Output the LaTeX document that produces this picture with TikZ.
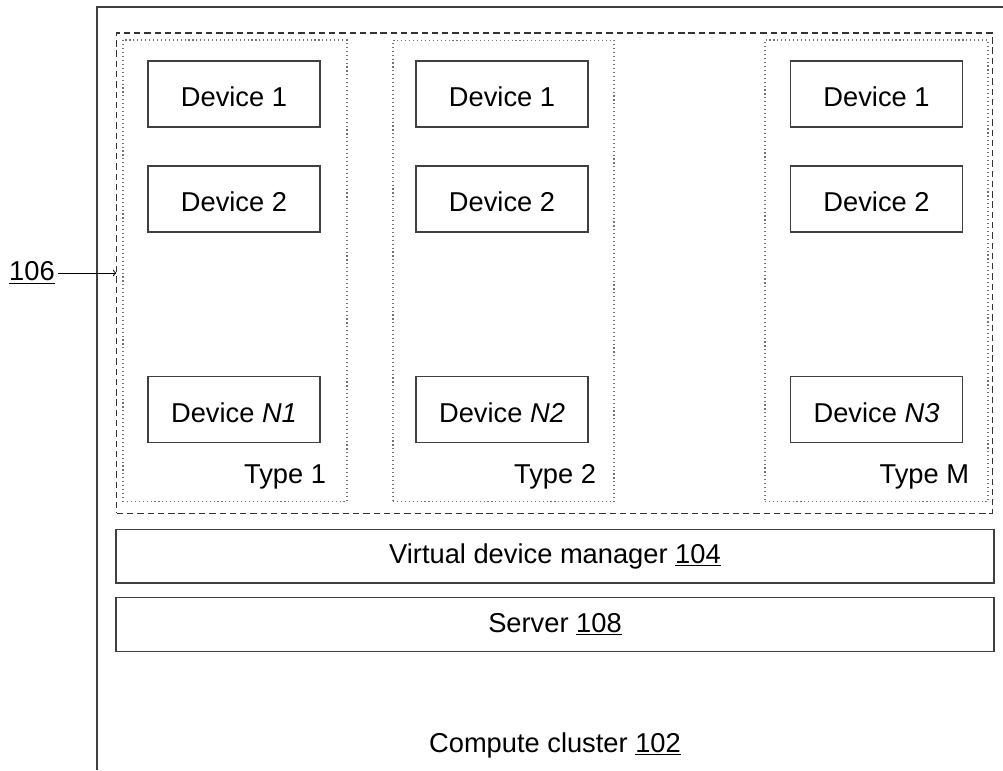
\documentclass[tikz,border=0pt]{standalone}
\usepackage{fontspec}
\setmainfont{Liberation Sans}
\usetikzlibrary{%
  arrows,%
  positioning,% wg. " of "
  calc
}

\begin{document}
\begin{tikzpicture}
[x=0.025cm, y=-0.025cm, font=\fontsize{19.4}{23}\selectfont,
dev/.style={rectangle, draw=black!75, line width=1pt, inner sep=0pt, text height=18pt, text depth=0pt, minimum width=4.3cm, minimum height=1.65cm},
typebox/.style={rectangle, draw=black!55, dash pattern=on 0.8pt off 2pt, line width=0.8pt, inner sep=0pt, minimum height=11.525cm},
poolbox/.style={rectangle, draw=black!80, dash pattern=on 4.5pt off 2.8pt, line width=0.8pt, inner sep=0pt, minimum width=21.875cm, minimum height=12cm},
bar/.style={rectangle, draw=black!75, line width=1pt, inner sep=0pt, minimum width=21.95cm, minimum height=1.34cm}
]
\useasboundingbox (0,0) rectangle (1003,770);

% compute cluster (cut by the page)
\draw[black!75, line width=1pt] (1003,7) -- (97,7) -- (97,770);
\node (cluster) at (555,745) {Compute cluster \underline{102}};

% device pool
\node[poolbox] (pool) at (554.5,273) {};

\node[typebox, minimum width=5.6cm] (type1) at (235,270.5) {};
\node[typebox, minimum width=5.525cm] (type2) at (503.5,271) {};
\node[typebox, minimum width=5.575cm] (typeM) at (876.5,270.5) {};

\node[anchor=base east] (t1) at (331,483) {Type 1};
\node[anchor=base east] (t2) at (601,483) {Type 2};
\node[anchor=base east] (tM) at (974,483) {Type M};

\node[dev] (d11) at (234,94) {Device 1};
\node[dev] (d12) at (234,199) {Device 2};
\node[dev] (d1n) at (234,409.5) {Device \textit{N1}};

\node[dev] (d21) at (502,94) {Device 1};
\node[dev] (d22) at (502,199) {Device 2};
\node[dev] (d2n) at (502,409.5) {Device \textit{N2}};

\node[dev] (d31) at (876.5,94) {Device 1};
\node[dev] (d32) at (876.5,199) {Device 2};
\node[dev] (d3n) at (876.5,409.5) {Device \textit{N3}};

% reference numeral
\node[inner sep=2pt] (ref106) at (32,273) {\underline{106}};
\draw[->, line width=0.7pt] (ref106) -- (pool.west);

% manager and server
\node[bar] (vdm) at (555,556) {Virtual device manager \underline{104}};
\node[bar] (server) at (555,624.5) {Server \underline{108}};
\end{tikzpicture}
\end{document}
